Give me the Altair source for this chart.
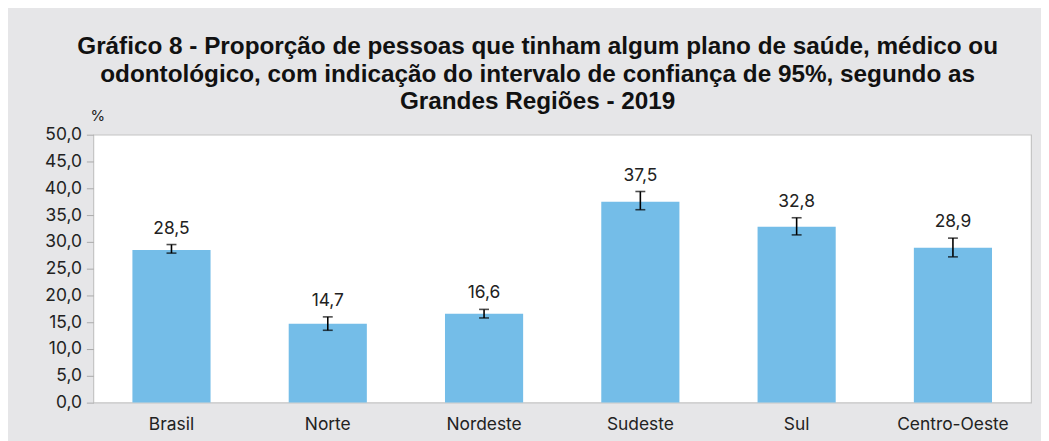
import altair as alt
import pandas as pd

regioes = ["Brasil", "Norte", "Nordeste", "Sudeste", "Sul", "Centro-Oeste"]
valores = [28.5, 14.7, 16.6, 37.5, 32.8, 28.9]
ic_inf = [27.9, 13.5, 15.8, 36.0, 31.3, 27.2]
ic_sup = [29.5, 16.0, 17.4, 39.4, 34.5, 30.7]
y_ticks = [0, 5, 10, 15, 20, 25, 30, 35, 40, 45, 50]

titulo = [
    "Gráfico 8 - Proporção de pessoas que tinham algum plano de saúde, médico ou",
    "odontológico, com indicação do intervalo de confiança de 95%, segundo as",
    "Grandes Regiões - 2019",
]

df = pd.DataFrame({"regiao": regioes, "valor": valores, "inf": ic_inf, "sup": ic_sup})

FONT = "Inter"
TFONT = "Liberation Sans"
TXT = "#222222"
FS = 17.5

x = alt.X(
    "regiao:N",
    sort=regioes,
    title=None,
    scale=alt.Scale(paddingInner=0.5, paddingOuter=0.25),
    axis=alt.Axis(labelAngle=0, ticks=False, domain=False, labelPadding=13,
                  labelFontSize=FS, labelColor=TXT, labelFont=FONT),
)
yscale = alt.Scale(domain=[0, 50])

yaxis = alt.Axis(
    values=y_ticks,
    labelExpr="replace(format(datum.value, '.1f'), '.', ',')",
    labelOverlap=False,
    grid=False,
    domain=False,
    tickColor="#aaaaaa",
    tickSize=7,
    labelPadding=5,
    labelFontSize=FS,
    labelColor=TXT,
    labelFont=FONT,
    title="%",
    titleAngle=0,
    titleX=4,
    titleY=-11,
    titleAlign="center",
    titleBaseline="bottom",
    titleFontSize=15,
    titleFontWeight="normal",
    titleColor=TXT,
    titleFont=FONT,
)

base = alt.Chart(df).encode(x=x)

bars = base.mark_bar(color="#74bde8").encode(
    y=alt.Y("valor:Q", scale=yscale, axis=yaxis)
)
rules = base.mark_rule(color="black", strokeWidth=1.6).encode(
    y=alt.Y("inf:Q", scale=yscale, axis=yaxis), y2="sup:Q"
)
cap_lo = base.mark_tick(color="black", size=10, thickness=1.6).encode(
    y=alt.Y("inf:Q", scale=yscale, axis=yaxis)
)
cap_hi = base.mark_tick(color="black", size=10, thickness=1.6).encode(
    y=alt.Y("sup:Q", scale=yscale, axis=yaxis)
)
labels = base.mark_text(
    dy=-7, baseline="bottom", fontSize=FS, color=TXT, font=FONT
).encode(
    y=alt.Y("sup:Q", scale=yscale, axis=yaxis), text="lbl:N"
).transform_calculate(lbl="replace(format(datum.valor, '.1f'), '.', ',')")

chart = (
    alt.layer(bars, rules, cap_lo, cap_hi, labels)
    .properties(
        width=945,
        height=270,
        autosize=alt.AutoSizeParams(type="none"),
        padding={"left": 86, "top": 126, "right": 10, "bottom": 37},
        background="#e6e6e8",
        title=alt.TitleParams(
            titulo,
            font=TFONT,
            fontSize=24.5,
            fontWeight="bold",
            lineHeight=28,
            color="#111111",
            anchor="middle",
            frame="bounds",
            offset=-6,
        ),
    )
    .configure_view(fill="white", stroke="#c4c4c4", strokeWidth=1.2)
)

chart.save("out.html", embed_options={"renderer": "svg", "actions": False})
